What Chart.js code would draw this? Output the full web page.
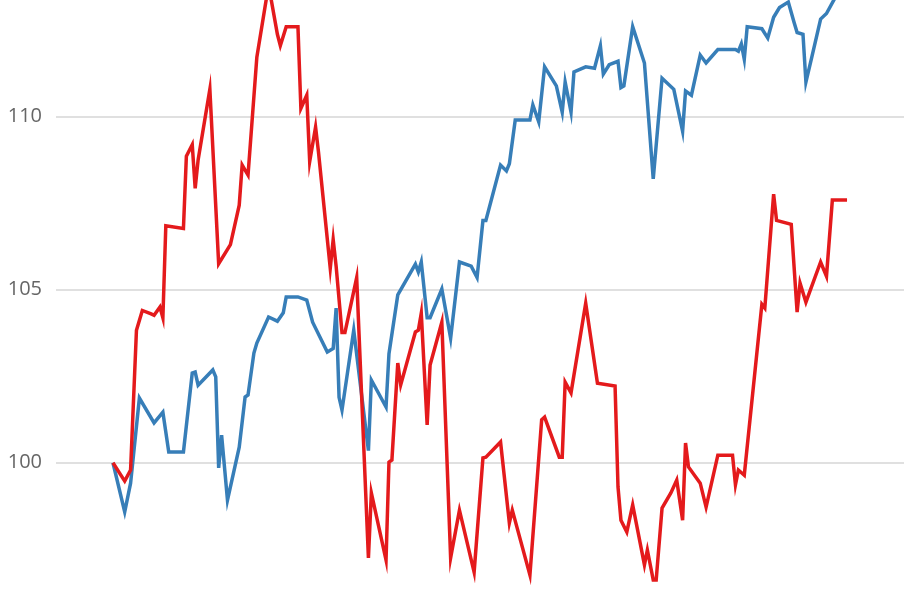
<!DOCTYPE html>
<html>
<head>
<meta charset="utf-8">
<title>Index comparison</title>
<script src="https://cdn.jsdelivr.net/npm/chart.js@4.4.0/dist/chart.umd.min.js"></script>
<style>
  html, body { margin: 0; padding: 0; background: #fff; }
  #indexChart { display: block; }
</style>
</head>
<body>
<canvas id="indexChart" width="910" height="596"></canvas>
<script>
  'use strict';

  // trading day index -> indexed value (start = 100), turning points
  const redDays = [
    0, 4, 6, 8, 10,
    13, 14, 16, 17, 18,
    24, 25, 27, 28, 29,
    33, 36, 40, 43, 44,
    46, 49, 53, 56, 57,
    59, 63, 64, 66, 67,
    69, 70, 74, 75, 76,
    78, 79, 83, 87, 88,
    93, 94, 95, 97, 98,
    103, 104, 105, 107, 108,
    112, 115, 118, 123, 126,
    127, 132, 135, 136, 142,
    146, 147, 152, 153, 154,
    156, 161, 165, 171, 172,
    173, 175, 177, 181, 182,
    184, 185, 187, 190, 192,
    194, 195, 196, 200, 202,
    206, 211, 212, 213, 215,
    221, 222, 225, 226, 231,
    233, 234, 236, 241, 243,
    245, 250
  ];
  const redValues = [
    100.0, 99.47, 99.79, 103.83, 104.40,
    104.30, 104.26, 104.50, 104.19, 106.85,
    106.77, 108.86, 109.19, 107.93, 108.75,
    110.79, 105.75, 106.30, 107.44, 108.60,
    108.31, 111.72, 113.80, 112.38, 112.05,
    112.60, 112.60, 110.24, 110.62, 108.70,
    109.70, 108.97, 105.62, 106.45, 105.68,
    103.76, 103.76, 105.35, 97.25, 99.13,
    97.19, 100.02, 100.08, 102.88, 102.25,
    103.78, 103.83, 104.32, 101.09, 102.82,
    104.06, 97.25, 98.63, 96.84, 100.14,
    100.16, 100.60, 98.26, 98.63, 96.76,
    101.24, 101.32, 100.16, 100.16, 102.33,
    102.02, 104.61, 102.30, 102.22, 99.30,
    98.34, 98.00, 98.78, 97.05, 97.48,
    96.61, 96.61, 98.69, 99.13, 99.50,
    98.34, 100.57, 99.88, 99.41, 98.72,
    100.22, 100.22, 99.36, 99.79, 99.64,
    104.58, 104.47, 107.76, 107.00, 106.89,
    104.35, 105.19, 104.64, 105.80, 105.39,
    107.59, 107.59
  ];

  const blueDays = [
    0, 4, 6, 9, 14,
    17, 19, 24, 27, 28,
    29, 34, 35, 36, 37,
    39, 43, 45, 46, 48,
    49, 53, 56, 58, 59,
    63, 66, 68, 73, 75,
    76, 77, 78, 82, 87,
    88, 93, 94, 97, 103,
    104, 105, 107, 108, 112,
    115, 118, 122, 124, 126,
    127, 132, 134, 135, 137,
    142, 143, 145, 147, 151,
    153, 154, 156, 157, 161,
    164, 166, 167, 169, 172,
    173, 174, 177, 181, 184,
    187, 191, 194, 195, 197,
    200, 202, 206, 212, 213,
    214, 215, 216, 221, 223,
    225, 227, 230, 232, 233,
    235, 236, 238, 241, 243,
    247, 250
  ];
  const blueValues = [
    100.0, 98.58, 99.41, 101.87, 101.15,
    101.46, 100.31, 100.31, 102.59, 102.62,
    102.24, 102.68, 102.48, 99.85, 100.80,
    98.92, 100.45, 101.90, 101.96, 103.17,
    103.46, 104.21, 104.09, 104.33, 104.79,
    104.79, 104.70, 104.06, 103.20, 103.30,
    104.47, 101.89, 101.52, 103.83, 100.35,
    102.39, 101.61, 103.15, 104.85, 105.74,
    105.51, 105.80, 104.19, 104.19, 105.02,
    103.60, 105.80, 105.68, 105.35, 107.00,
    107.00, 108.60, 108.43, 108.64, 109.90,
    109.90, 110.34, 109.85, 111.44, 110.89,
    110.13, 111.00, 110.13, 111.29, 111.44,
    111.40, 112.05, 111.23, 111.50, 111.60,
    110.84, 110.89, 112.60, 111.55, 108.20,
    111.11, 110.79, 109.58, 110.74, 110.62,
    111.78, 111.55, 111.94, 111.94, 111.89,
    112.10, 111.66, 112.60, 112.54, 112.27,
    112.87, 113.15, 113.31, 112.71, 112.43,
    112.38, 111.00, 111.72, 112.82, 112.98,
    113.60, 114.30
  ];

  const yTicks = [100, 105, 110];
  const yMin = 96.15;
  const yMax = 113.37;

  function toPoints(days, values) {
    return days.map(function (d, i) { return { x: d, y: values[i] }; });
  }

  const ctx = document.getElementById('indexChart');
  new Chart(ctx, {
    type: 'line',
    data: {
      datasets: [{
        label: 'Red',
        data: toPoints(redDays, redValues),
        borderColor: '#e41a1c',
        borderWidth: 3.5,
        pointRadius: 0,
        tension: 0,
        fill: false
      }, {
        label: 'Blue',
        data: toPoints(blueDays, blueValues),
        borderColor: '#377eb8',
        borderWidth: 3.5,
        pointRadius: 0,
        tension: 0,
        fill: false
      }]
    },
    options: {
      responsive: false,
      animation: false,
      layout: {
        padding: { left: 0, right: 6, top: 0, bottom: 0 }
      },
      scales: {
        x: {
          type: 'linear',
          display: false,
          bounds: 'data',
          min: -19.4,
          max: 269.4
        },
        y: {
          bounds: 'data',
          min: yMin,
          max: yMax,
          afterBuildTicks: function (scale) {
            scale.ticks = yTicks.map(function (v) { return { value: v }; });
          },
          afterFit: function (scale) {
            scale.width = 56;
            scale.paddingTop = 0;
            scale.paddingBottom = 0;
          },
          border: {
            display: false
          },
          grid: {
            color: '#e0e0e0',
            lineWidth: 2,
            drawTicks: false
          },
          ticks: {
            padding: 14,
            color: '#666',
            font: {
              family: "'Open Sans'",
              size: 20
            }
          }
        }
      },
      plugins: {
        legend: { display: false },
        tooltip: { enabled: false }
      }
    }
  });
</script>
</body>
</html>
